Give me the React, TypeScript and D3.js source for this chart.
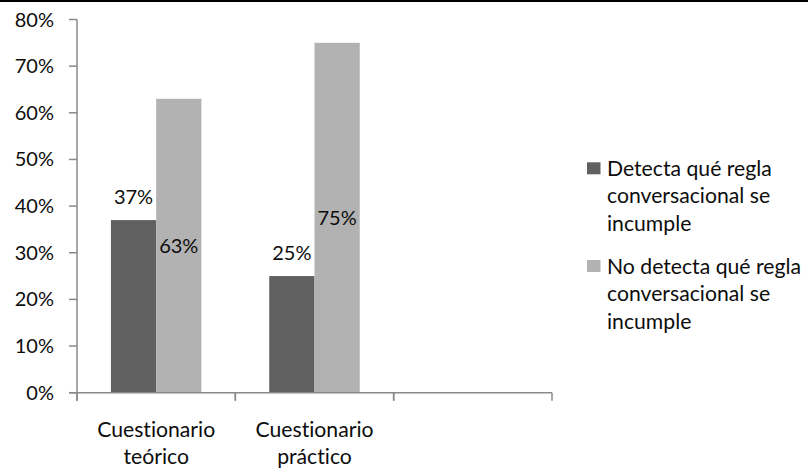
import React from "react";
import * as d3 from "d3";

const categories = ["Cuestionario teórico", "Cuestionario práctico", ""];
const seriesNames = [
  "Detecta qué regla conversacional se incumple",
  "No detecta qué regla conversacional se incumple",
];
const detecta: (number | null)[] = [0.37, 0.25, null];
const noDetecta: (number | null)[] = [0.63, 0.75, null];
const yTicks = [0, 0.1, 0.2, 0.3, 0.4, 0.5, 0.6, 0.7, 0.8];
const legendLines = [
  ["Detecta qué regla", "conversacional se", "incumple"],
  ["No detecta qué regla", "conversacional se", "incumple"],
];
const colors = ["#606060", "#b2b2b2"];

const W = 808;
const H = 472;
const FONT = "Lato, 'Open Sans', sans-serif";
const FS = 20;
const FS_TXT = 21.2;
const TEXT = "#0d0d0d";
const AXIS = "#8a8a8a";

export default function App() {
  const y = d3.scaleLinear().domain([0, 0.8]).range([392.7, 19.5]);
  const x = d3.scaleBand<string>().domain(categories.map((c, i) => String(i))).range([77, 552]).padding(0);
  const inner = d3
    .scaleBand<string>()
    .domain(seriesNames)
    .range([0, x.bandwidth()])
    .paddingInner(0)
    .paddingOuter(0.75);
  const allSeries = [detecta, noDetecta];
  const fmt = d3.format(".0%");
  const y0 = y(0);

  return (
    <svg
      width={W}
      height={H}
      style={{ position: "absolute", left: 0, top: 0, background: "#fff", fontVariantLigatures: "none" }}
      fontFamily={FONT}
    >
      <rect x={0} y={0} width={W} height={H} fill="#fff" />
      <rect x={0} y={0} width={W} height={2} fill="#000" />

      {/* bars */}
      {allSeries.map((vals, si) =>
        vals.map((v, ci) =>
          v == null ? null : (
            <rect
              key={`b${si}-${ci}`}
              x={(x(String(ci)) as number) + (inner(seriesNames[si]) as number)}
              y={y(v)}
              width={inner.bandwidth()}
              height={y0 - y(v)}
              fill={colors[si]}
            />
          )
        )
      )}

      {/* axes */}
      <line x1={77} x2={77} y1={y(0.8)} y2={y0 + 8} stroke={AXIS} strokeWidth={1.5} />
      <line x1={69} x2={552} y1={y0} y2={y0} stroke={AXIS} strokeWidth={1.5} />
      {yTicks.map((t) => (
        <g key={`yt${t}`}>
          <line x1={69} x2={77} y1={y(t)} y2={y(t)} stroke={AXIS} strokeWidth={1.5} />
          <text x={54} y={y(t) + 7} textAnchor="end" fontSize={FS} fill={TEXT}>
            {fmt(t)}
          </text>
        </g>
      ))}
      {categories.map((c, i) => {
        const xs = [x(String(i)) as number, (x(String(i)) as number) + x.bandwidth()];
        return (
          <g key={`xc${i}`}>
            {xs.map((xx, k) => (
              <line key={k} x1={xx} x2={xx} y1={y0} y2={y0 + 8} stroke={AXIS} strokeWidth={1.5} />
            ))}
            {c.split(" ").map((line, li) => (
              <text
                key={li}
                x={(x(String(i)) as number) + x.bandwidth() / 2}
                y={437 + li * 27}
                textAnchor="middle"
                fontSize={FS_TXT}
                fill={TEXT}
              >
                {line}
              </text>
            ))}
          </g>
        );
      })}

      {/* data labels */}
      {allSeries.map((vals, si) =>
        vals.map((v, ci) => {
          if (v == null) return null;
          const cx = (x(String(ci)) as number) + (inner(seriesNames[si]) as number) + inner.bandwidth() / 2;
          const ly = si === 0 ? y(v) - 16 : y(v / 2) + 7;
          return (
            <text key={`l${si}-${ci}`} x={cx} y={ly} textAnchor="middle" fontSize={FS} fill={TEXT}>
              {fmt(v)}
            </text>
          );
        })
      )}

      {/* legend */}
      {legendLines.map((lines, si) => {
        const top = si === 0 ? 162.3 : 260;
        return (
          <g key={`lg${si}`}>
            <rect x={587} y={top} width={13.5} height={12} fill={colors[si]} />
            {lines.map((ln, li) => (
              <text key={li} x={607} y={top + 13.5 + li * 27.5} fontSize={FS_TXT} fill={TEXT}>
                {ln}
              </text>
            ))}
          </g>
        );
      })}
    </svg>
  );
}
